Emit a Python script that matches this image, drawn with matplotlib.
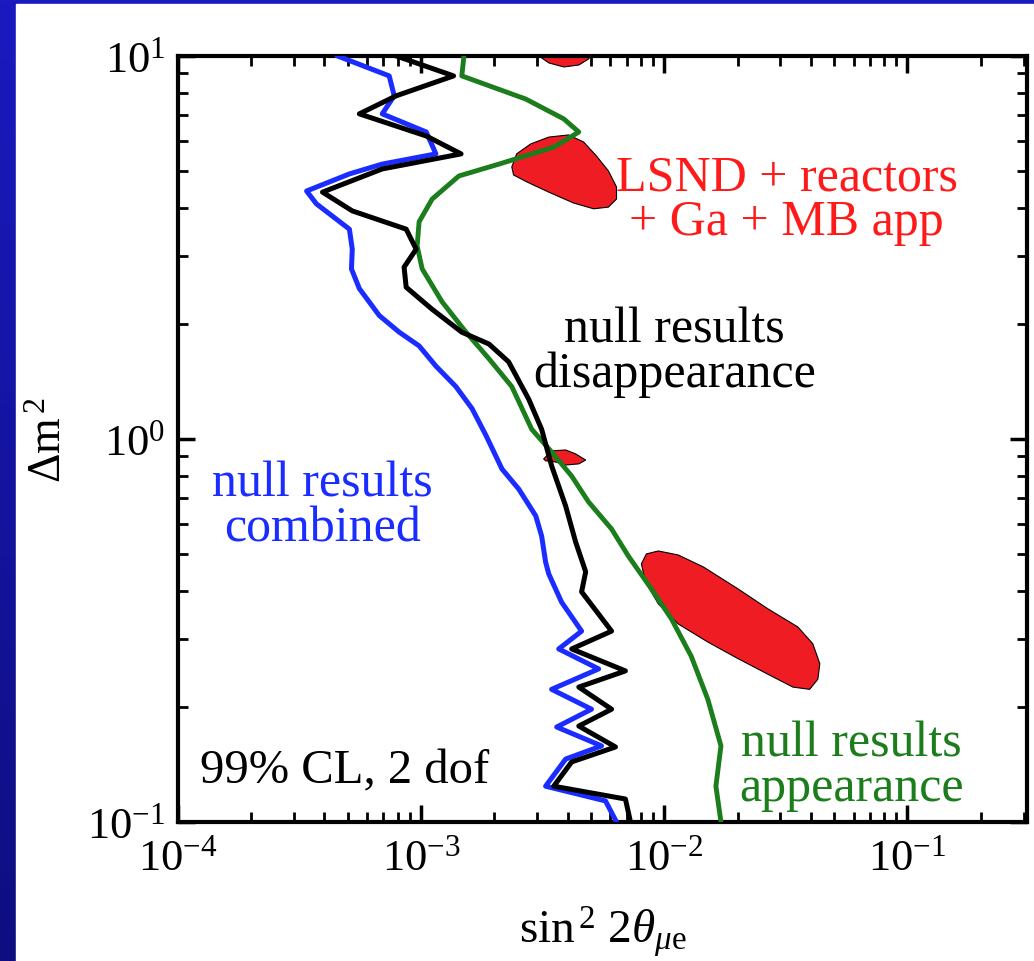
import numpy as np
import matplotlib
matplotlib.use("Agg")
import matplotlib.pyplot as plt
from matplotlib.patches import Polygon, Rectangle
from matplotlib.colors import LinearSegmentedColormap

plt.rcParams["font.family"] = ["Liberation Serif", "DejaVu Serif"]
plt.rcParams["mathtext.fontset"] = "custom"
plt.rcParams["mathtext.rm"] = "Liberation Serif"
plt.rcParams["mathtext.it"] = "Liberation Serif:italic"
plt.rcParams["mathtext.bf"] = "Liberation Serif:bold"

# 99% CL exclusion curves (sin^2 2theta_mue, dm^2)
comb_s2t = [4.53e-4, 7.39e-4, 7.75e-4, 6.92e-4, 1.05e-3, 1.15e-3, 6.92e-4, 5.07e-4,
            3.38e-4, 3.71e-4, 5.07e-4, 5.21e-4, 5.17e-4, 5.57e-4, 6.73e-4, 8.13e-4,
            9.81e-4, 1.15e-3, 1.39e-3, 1.62e-3, 1.85e-3, 2.15e-3, 2.52e-3, 2.96e-3,
            3.13e-3, 3.25e-3, 3.35e-3, 3.78e-3, 4.57e-3, 3.68e-3, 5.37e-3, 3.44e-3,
            5.02e-3, 3.61e-3, 5.52e-3, 3.93e-3, 3.25e-3, 5.73e-3, 6.36e-3]
comb_dm2 = [10.0, 8.87, 7.87, 7.06, 6.33, 5.55, 5.22, 4.92,
            4.44, 4.11, 3.53, 3.13, 2.78, 2.47, 2.10, 1.90,
            1.75, 1.55, 1.37, 1.20, 1.02, 0.835, 0.740, 0.630,
            0.558, 0.477, 0.444, 0.375, 0.315, 0.283, 0.251, 0.222,
            0.197, 0.177, 0.158, 0.146, 0.124, 0.1135, 0.1]

dis_s2t = [7.90e-4, 1.36e-3, 7.90e-4, 5.57e-4, 1.05e-3, 1.46e-3, 6.92e-4, 3.93e-4,
           5.21e-4, 8.68e-4, 9.54e-4, 8.51e-4, 8.68e-4, 1.11e-3, 1.47e-3, 1.90e-3,
           2.29e-3, 2.77e-3, 3.13e-3, 3.44e-3, 3.93e-3, 4.32e-3, 4.75e-3, 4.57e-3,
           6.07e-3, 4.16e-3, 6.92e-3, 4.45e-3, 6.07e-3, 4.45e-3, 6.30e-3, 4.16e-3,
           3.51e-3, 6.92e-3, 7.26e-3]
dis_dm2 = [10.0, 8.87, 7.87, 7.06, 6.18, 5.55, 5.07, 4.41,
           3.94, 3.53, 3.13, 2.81, 2.49, 2.18, 1.90, 1.77,
           1.59, 1.27, 1.06, 0.851, 0.668, 0.538, 0.450, 0.399,
           0.315, 0.283, 0.248, 0.225, 0.197, 0.178, 0.157, 0.1435,
           0.124, 0.1148, 0.1]

app_s2t = [1.50e-3, 1.47e-3, 2.69e-3, 3.86e-3, 4.45e-3, 3.51e-3, 2.09e-3, 1.43e-3,
           1.11e-3, 9.81e-4, 9.63e-4, 1.01e-3, 1.22e-3, 1.53e-3, 1.90e-3, 2.36e-3,
           2.85e-3, 3.44e-3, 4.16e-3, 4.88e-3, 6.07e-3, 7.11e-3, 8.85e-3, 1.07e-2,
           1.29e-2, 1.51e-2, 1.71e-2, 1.63e-2, 1.71e-2]
app_dm2 = [10.0, 8.87, 7.72, 6.85, 6.33, 5.78, 5.22, 4.86,
           4.23, 3.69, 3.19, 2.78, 2.28, 1.90, 1.62, 1.37,
           1.06, 0.925, 0.800, 0.685, 0.582, 0.495, 0.406, 0.339,
           0.271, 0.209, 0.158, 0.124, 0.1]

# allowed islands (LSND + reactors + Ga + MB app)
isl1_s2t = [3.05e-3, 3.05e-3, 3.35e-3, 3.86e-3, 4.45e-3, 4.88e-3, 4.98e-3, 4.98e-3]
isl1_dm2 = [10.6, 10.0, 9.59, 9.36, 9.47, 9.82, 10.0, 10.6]

isl2_s2t = [2.36e-3, 2.47e-3, 2.82e-3, 3.35e-3, 4.04e-3, 4.66e-3, 5.26e-3, 5.89e-3,
            6.36e-3, 6.36e-3, 5.89e-3, 5.12e-3, 4.24e-3, 3.35e-3, 2.72e-3, 2.40e-3]
isl2_dm2 = [5.13, 5.55, 5.89, 6.14, 6.22, 5.96, 5.48, 5.01,
            4.55, 4.23, 4.03, 3.99, 4.13, 4.41, 4.69, 4.89]

isl3_s2t = [3.19e-3, 3.44e-3, 3.93e-3, 4.32e-3, 4.75e-3, 4.45e-3, 3.93e-3, 3.57e-3, 3.25e-3]
isl3_dm2 = [0.887, 0.931, 0.936, 0.914, 0.881, 0.861, 0.855, 0.871, 0.877]

isl4_s2t = [8.05e-3, 8.44e-3, 9.45e-3, 1.14e-2, 1.45e-2, 2.01e-2, 2.67e-2, 3.54e-2,
            4.08e-2, 4.36e-2, 4.28e-2, 3.96e-2, 3.38e-2, 2.67e-2, 2.01e-2, 1.51e-2,
            1.14e-2, 9.45e-3, 8.36e-3]
isl4_dm2 = [0.472, 0.501, 0.510, 0.498, 0.463, 0.406, 0.360, 0.323,
            0.292, 0.259, 0.236, 0.222, 0.225, 0.243, 0.267, 0.295,
            0.329, 0.371, 0.424]

islands = [(isl1_s2t, isl1_dm2), (isl2_s2t, isl2_dm2),
           (isl3_s2t, isl3_dm2), (isl4_s2t, isl4_dm2)]

BLUE = "#1a2cff"
GREEN = "#1b7d1b"
RED = "#f01c24"

fig = plt.figure(figsize=(10.34, 9.62), dpi=100)

# slide background: blue gradient frame with a white panel
bg = fig.add_axes([0, 0, 1, 1], zorder=-5)
grad = np.linspace(0, 1, 256).reshape(-1, 1)
cmap = LinearSegmentedColormap.from_list("slide", ["#1a1ac0", "#0e0e80"])
bg.imshow(grad, aspect="auto", cmap=cmap, extent=[0, 1, 0, 1], origin="upper")
bg.add_patch(Rectangle((16 / 1034, 0), 1, 1 - 5 / 962, color="white", zorder=2))
bg.set_xlim(0, 1)
bg.set_ylim(0, 1)
bg.axis("off")

ax = fig.add_axes([0.1721, 0.1445, 0.8211, 0.7963])
ax.set_xscale("log")
ax.set_yscale("log")
ax.set_xlim(1e-4, 0.31)
ax.set_ylim(0.1, 10)

for xs, ys in islands:
    ax.add_patch(Polygon(np.column_stack([xs, ys]), closed=True, facecolor=RED,
                         edgecolor="black", linewidth=0.8, zorder=2))

ax.plot(app_s2t, app_dm2, color=GREEN, lw=3.5, zorder=3)
ax.plot(comb_s2t, comb_dm2, color=BLUE, lw=3.6, zorder=3)
ax.plot(dis_s2t, dis_dm2, color="black", lw=3.6, zorder=4)

txt = dict(fontsize=36, ha="center", va="center", linespacing=0.95,
           transform=ax.transAxes)
ax.text(0.717, 0.813, "LSND + reactors\n+ Ga + MB app", color="#ff1a1a", **txt)
ax.text(0.585, 0.614, "null results\ndisappearance", color="black", **txt)
ax.text(0.170, 0.413, "null results\ncombined", color=BLUE, **txt)
ax.text(0.793, 0.074, "null results\nappearance", color=GREEN, **txt)
ax.text(0.026, 0.067, "99% CL, 2 dof", color="black", fontsize=35,
        ha="left", va="center", transform=ax.transAxes)

ax.set_xlabel(r"sin$^{\,2}$ 2$\theta_{\mu \mathrm{e}}$", fontsize=34, labelpad=18)
ax.set_ylabel(r"$\Delta$m$^{\,2}$", fontsize=33, labelpad=12)

ax.tick_params(which="both", direction="in", top=True, right=True, labelsize=32)
ax.tick_params(axis="x", which="major", pad=12)
ax.tick_params(axis="y", which="major", pad=9)
ax.tick_params(which="major", length=12, width=2.5)
ax.tick_params(which="minor", length=7, width=2)
for s in ax.spines.values():
    s.set_linewidth(3)

fig.savefig("out.png", dpi=100)
